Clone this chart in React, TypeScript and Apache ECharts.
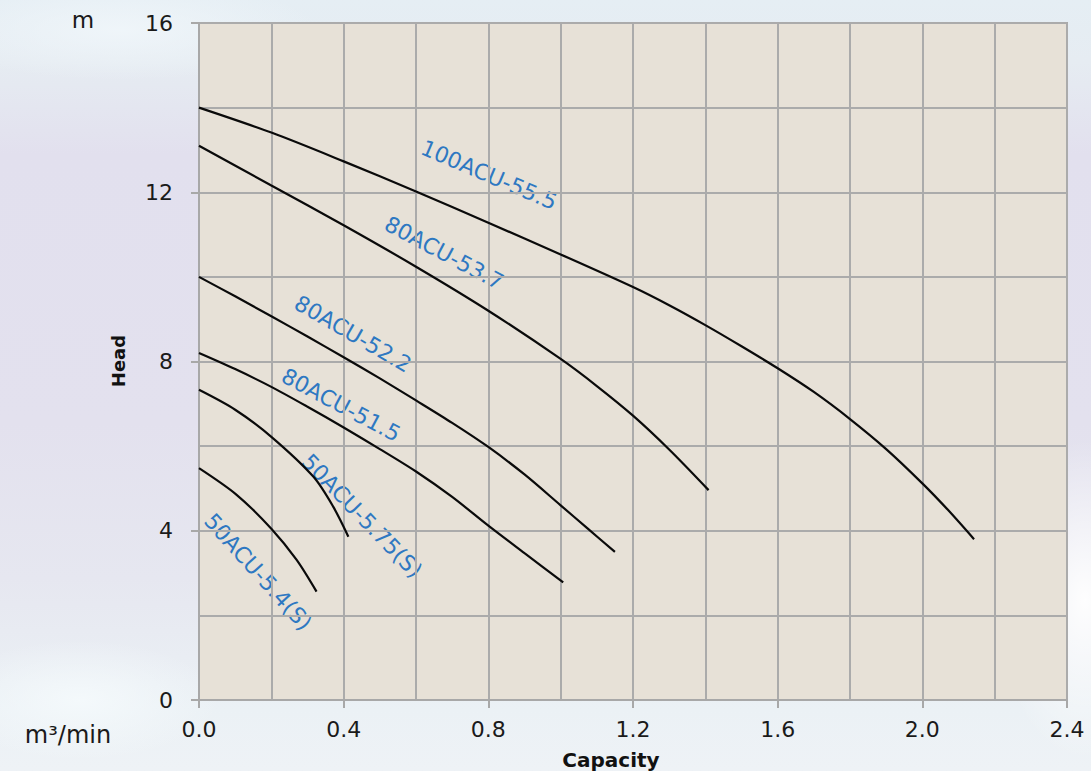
import React, { useEffect, useRef } from "react";
import * as echarts from "echarts";

// Capacity (m³/min) and Head (m)
const q100 = [0, 0.2, 0.4, 0.6, 0.8, 1.0, 1.2, 1.3, 1.4, 1.5, 1.6, 1.7, 1.8, 1.9, 2.0, 2.07, 2.143];
const h100 = [14.0, 13.41, 12.73, 12.02, 11.28, 10.53, 9.76, 9.33, 8.86, 8.36, 7.84, 7.28, 6.64, 5.93, 5.12, 4.5, 3.8];

const q537 = [0, 0.2, 0.4, 0.6, 0.8, 1.0, 1.1, 1.2, 1.3, 1.409];
const h537 = [13.1, 12.16, 11.22, 10.24, 9.2, 8.06, 7.42, 6.72, 5.92, 4.96];

const q522 = [0, 0.1, 0.2, 0.3, 0.4, 0.5, 0.6, 0.7, 0.8, 0.9, 1.0, 1.075, 1.15];
const h522 = [10.0, 9.54, 9.07, 8.59, 8.1, 7.6, 7.08, 6.55, 5.98, 5.33, 4.6, 4.05, 3.5];

const q515 = [0, 0.1, 0.2, 0.3, 0.4, 0.5, 0.6, 0.7, 0.8, 0.9, 1.007];
const h515 = [8.2, 7.82, 7.4, 6.93, 6.44, 5.93, 5.4, 4.8, 4.12, 3.47, 2.78];

const q575 = [0, 0.1, 0.2, 0.316, 0.371, 0.413];
const h575 = [7.33, 6.86, 6.22, 5.28, 4.57, 3.86];

const q54 = [0, 0.104, 0.2, 0.27, 0.325];
const h54 = [5.48, 4.85, 4.05, 3.31, 2.56];

const xTicks = [0, 0.4, 0.8, 1.2, 1.6, 2.0, 2.4];
const yTicks = [0, 4, 8, 12, 16];

const curves = [
  { name: "100ACU-55.5", q: q100, h: h100 },
  { name: "80ACU-53.7", q: q537, h: h537 },
  { name: "80ACU-52.2", q: q522, h: h522 },
  { name: "80ACU-51.5", q: q515, h: h515 },
  { name: "50ACU-5.75(S)", q: q575, h: h575 },
  { name: "50ACU-5.4(S)", q: q54, h: h54 },
];

const labels = [
  { text: "100ACU-55.5", x: 489, y: 175, deg: 23 },
  { text: "80ACU-53.7", x: 444, y: 253, deg: 28 },
  { text: "80ACU-52.2", x: 353, y: 334, deg: 30 },
  { text: "80ACU-51.5", x: 341, y: 405, deg: 28 },
  { text: "50ACU-5.75(S)", x: 362, y: 516, deg: 46 },
  { text: "50ACU-5.4(S)", x: 258, y: 572, deg: 48 },
];

const FONT = "DejaVu Sans";

export default function App() {
  const ref = useRef<HTMLDivElement>(null);
  useEffect(() => {
    if (!ref.current) return;
    const chart = echarts.init(ref.current, null, { renderer: "svg" });
    const gridLine = { lineStyle: { color: "#ABABAB", width: 2 } };
    chart.setOption({
      animation: false,
      backgroundColor: "transparent",
      grid: {
        left: 199,
        top: 23,
        width: 868,
        height: 677,
        show: true,
        backgroundColor: "#E7E1D7",
        borderColor: "#A8A8A8",
        borderWidth: 2,
      },
      xAxis: {
        type: "value",
        min: 0,
        max: 2.4,
        interval: 0.4,
        axisLine: { show: true, lineStyle: { color: "#A8A8A8", width: 2 } },
        axisTick: { show: true, length: 8, lineStyle: { color: "#A8A8A8", width: 2 } },
        axisLabel: {
          color: "#1a1a1a",
          fontFamily: FONT,
          fontSize: 22,
          margin: 18,
          formatter: (v: number) => (xTicks.includes(Math.round(v * 10) / 10) ? v.toFixed(1) : ""),
        },
        splitLine: { show: true, ...gridLine },
        minorSplitLine: { show: true, ...gridLine },
        minorTick: { show: false, splitNumber: 2 },
      },
      yAxis: {
        type: "value",
        min: 0,
        max: 16,
        interval: 4,
        axisLine: { show: true, lineStyle: { color: "#A8A8A8", width: 2 } },
        axisTick: { show: true, length: 8, lineStyle: { color: "#A8A8A8", width: 2 } },
        axisLabel: {
          color: "#1a1a1a",
          fontFamily: FONT,
          fontSize: 22,
          margin: 26,
          formatter: (v: number) => (yTicks.includes(v) ? String(v) : ""),
        },
        splitLine: { show: true, ...gridLine },
        minorSplitLine: { show: true, ...gridLine },
        minorTick: { show: false, splitNumber: 2 },
      },
      series: curves.map((c) => ({
        name: c.name,
        type: "line",
        smooth: 0.3,
        showSymbol: false,
        symbol: "none",
        lineStyle: { color: "#0a0a0a", width: 2.2 },
        data: c.q.map((q, i) => [q, c.h[i]]),
      })),
      graphic: [
        ...labels.map((l) => ({
          type: "text",
          x: l.x,
          y: l.y,
          rotation: (-l.deg * Math.PI) / 180,
          style: {
            text: l.text,
            fill: "#2E78C2",
            font: `22px "${FONT}"`,
            align: "center",
            verticalAlign: "middle",
          },
        })),
        {
          type: "text",
          x: 83,
          y: 20,
          style: { text: "m", fill: "#1a1a1a", font: `23px "${FONT}"`, align: "center", verticalAlign: "middle" },
        },
        {
          type: "text",
          x: 68,
          y: 735,
          style: { text: "m³/min", fill: "#1a1a1a", font: `24px "${FONT}"`, align: "center", verticalAlign: "middle" },
        },
        {
          type: "text",
          x: 118,
          y: 361,
          rotation: Math.PI / 2,
          style: { text: "Head", fill: "#111", font: `bold 18px "${FONT}"`, align: "center", verticalAlign: "middle" },
        },
        {
          type: "text",
          x: 611,
          y: 760,
          style: { text: "Capacity", fill: "#111", font: `bold 20px "${FONT}"`, align: "center", verticalAlign: "middle" },
        },
      ],
    });
    return () => chart.dispose();
  }, []);
  return (
    <div
      ref={ref}
      style={{
        position: "fixed",
        left: 0,
        top: 0,
        width: 1091,
        height: 771,
        background:
          "radial-gradient(ellipse 90px 160px at 1085px 600px, rgba(255,255,255,0.95), rgba(255,255,255,0) 100%)," +
          "radial-gradient(ellipse 140px 60px at 80px 700px, rgba(245,250,252,0.9), rgba(255,255,255,0) 100%)," +
          "radial-gradient(ellipse 200px 50px at 120px 30px, rgba(240,246,250,0.9), rgba(255,255,255,0) 100%)," +
          "linear-gradient(180deg, #E5EEF4 0%, #E6ECF2 8%, #E2E0EE 20%, #E3E1EE 55%, #E6E7F0 75%, #EBF1F5 92%, #EEF2F6 100%)",
      }}
    />
  );
}
